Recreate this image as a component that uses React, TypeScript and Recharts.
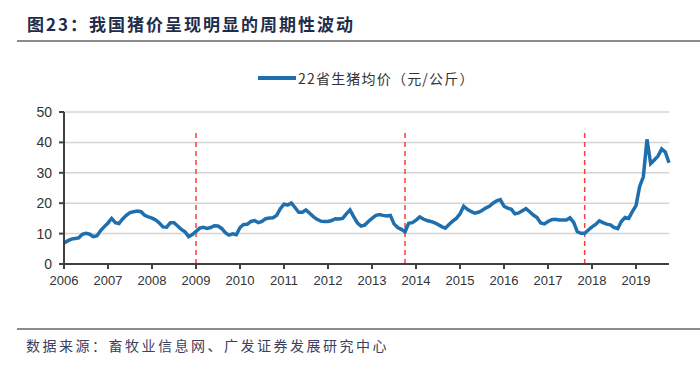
import React from "react";
import { LineChart, Line, XAxis, YAxis, CartesianGrid, ReferenceLine } from "recharts";

// 22省生猪均价 (元/公斤), monthly, 2006-01 .. 2019-10
const startYear = 2006;
const prices = [
  6.9, 7.6, 8.2, 8.4, 8.6, 9.8, 10.1, 9.8, 9.0, 9.3, 11.0, 12.3,
  13.5, 15.0, 13.6, 13.3, 14.8, 16.0, 16.9, 17.2, 17.4, 17.2, 16.0, 15.5,
  15.1, 14.5, 13.5, 12.2, 12.1, 13.6, 13.6, 12.5, 11.4, 10.6, 9.0, 9.7,
  10.7, 11.8, 12.1, 11.7, 12.0, 12.6, 12.5, 11.7, 10.3, 9.5, 9.9, 9.6,
  12.0, 13.0, 13.1, 14.0, 14.3, 13.6, 14.0, 14.9, 15.1, 15.2, 16.0, 18.2,
  19.7, 19.4, 20.1, 18.6, 17.0, 17.0, 17.8, 16.7, 15.6, 14.7, 14.1, 14.0,
  14.0, 14.3, 14.9, 14.8, 15.0, 16.5, 17.8, 15.6, 13.5, 12.5, 12.8, 14.0,
  15.0, 15.9, 16.3, 16.0, 15.8, 16.0, 13.2, 12.0, 11.4, 10.6, 13.4, 13.6,
  14.4, 15.5, 14.8, 14.3, 14.0, 13.6, 13.0, 12.3, 11.8, 13.0, 14.1, 15.0,
  16.5, 19.0, 18.0, 17.3, 16.7, 17.0, 17.6, 18.4, 19.0, 20.0, 20.8, 21.2,
  19.0, 18.4, 18.0, 16.5, 16.8, 17.5, 18.2, 17.2, 16.1, 15.3, 13.5, 13.2,
  14.0, 14.6, 14.7, 14.5, 14.5, 14.5, 15.2, 13.7, 10.6, 10.1, 10.1, 11.2,
  12.2, 13.0, 14.2, 13.6, 13.1, 12.9, 12.0, 11.6, 14.0, 15.3, 15.0, 17.2,
  19.2, 25.5, 28.7, 41.0, 33.0, 34.2, 35.5, 37.8, 36.8, 33.3,
];

const yearTicks = ["2006", "2007", "2008", "2009", "2010", "2011", "2012", "2013", "2014", "2015", "2016", "2017", "2018", "2019"];
const yTicks = [0, 10, 20, 30, 40, 50];
// cycle turning points marked with red dashed lines
const cycleMarks = ["2009-01", "2013-10", "2017-11"];
const markTop = 44;

const data = prices.map((price, i) => {
  const y = startYear + Math.floor(i / 12);
  const m = (i % 12) + 1;
  return { month: `${y}-${m < 10 ? "0" + m : m}`, price };
});

const axisFont = "'Liberation Sans', Arial, sans-serif";
const cjkFont = "'Noto Sans CJK SC', 'Noto Sans', sans-serif";

export default function App() {
  return (
    <div style={{ position: "absolute", left: 0, top: 0, width: 700, height: 368, background: "#fff", overflow: "hidden" }}>
      <div
        style={{
          position: "absolute",
          left: 27,
          top: 12,
          fontFamily: cjkFont,
          fontWeight: 700,
          fontSize: 17,
          letterSpacing: 2,
          color: "#1f2d4a",
          whiteSpace: "nowrap",
          lineHeight: "24px",
        }}
      >
        图23：我国猪价呈现明显的周期性波动
      </div>
      <div style={{ position: "absolute", left: 17, top: 40, width: 683, height: 2, background: "#8c8c8c" }} />

      {/* legend */}
      <div style={{ position: "absolute", left: 258, top: 76, width: 38, height: 4, background: "#1f6fae" }} />
      <div
        style={{
          position: "absolute",
          left: 298,
          top: 69,
          fontFamily: cjkFont,
          fontSize: 14,
          letterSpacing: 1.2,
          color: "#333",
          whiteSpace: "nowrap",
          lineHeight: "18px",
        }}
      >
        22省生猪均价（元/公斤）
      </div>

      <div style={{ position: "absolute", left: 0, top: 0 }}>
        <LineChart width={700} height={368} data={data} margin={{ top: 112, right: 31, bottom: 74, left: 14 }}>
          <CartesianGrid vertical={false} stroke="#d4d4d4" strokeWidth={1.5} />
          <XAxis
            dataKey="month"
            ticks={yearTicks.map((y) => `${y}-01`)}
            interval={0}
            tickFormatter={(v: string) => v.slice(0, 4)}
            axisLine={{ stroke: "#404040", strokeWidth: 2 }}
            tickLine={{ stroke: "#404040", strokeWidth: 2 }}
            tickSize={5}
            tickMargin={7}
            height={30}
            tick={{ fill: "#333", fontSize: 13, fontFamily: axisFont }}
          />
          <YAxis
            domain={[0, 50]}
            ticks={yTicks}
            width={50}
            axisLine={{ stroke: "#404040", strokeWidth: 2 }}
            tickLine={{ stroke: "#404040", strokeWidth: 2 }}
            tickSize={5}
            tickMargin={7}
            tick={{ fill: "#333", fontSize: 14, fontFamily: axisFont }}
          />
          {cycleMarks.map((m) => (
            <ReferenceLine
              key={m}
              segment={[
                { x: m, y: 0 },
                { x: m, y: markTop },
              ]}
              stroke="#ff3c3c"
              strokeWidth={1.5}
              strokeDasharray="5 4"
            />
          ))}
          <Line
            type="linear"
            dataKey="price"
            stroke="#1f6fae"
            strokeWidth={3.5}
            dot={false}
            isAnimationActive={false}
          />
        </LineChart>
      </div>

      <div style={{ position: "absolute", left: 17, top: 328, width: 683, height: 2, background: "#8c8c8c" }} />
      <div
        style={{
          position: "absolute",
          left: 26,
          top: 336,
          fontFamily: cjkFont,
          fontSize: 14,
          letterSpacing: 2.5,
          color: "#3c4060",
          whiteSpace: "nowrap",
          lineHeight: "18px",
        }}
      >
        数据来源：畜牧业信息网、广发证券发展研究中心
      </div>
    </div>
  );
}
